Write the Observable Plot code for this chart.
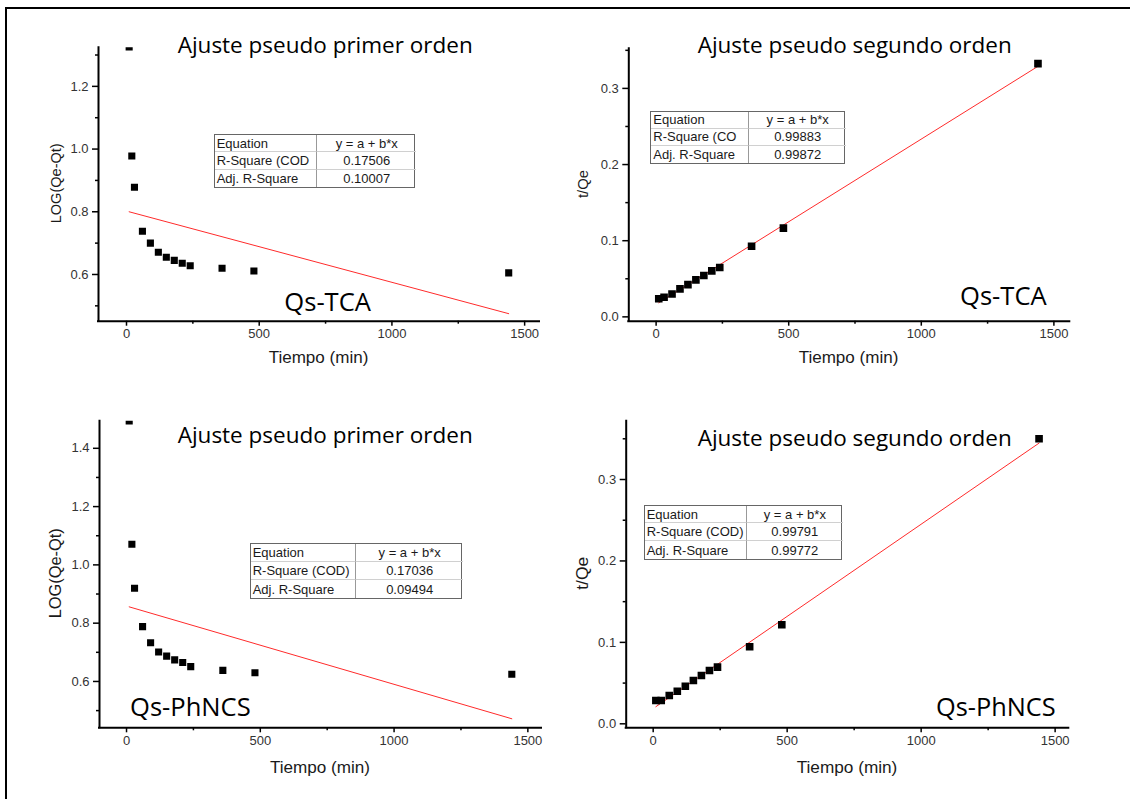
<!DOCTYPE html>
<html><head><meta charset="utf-8">
<script src="https://cdn.jsdelivr.net/npm/d3@7"></script>
<script src="https://cdn.jsdelivr.net/npm/@observablehq/plot@0.6"></script>
<style>
body{margin:0;background:#fff;}
#root{position:relative;width:1130px;height:799px;overflow:hidden;background:#fff;}
.frame{position:absolute;left:5px;top:7px;width:1200px;height:900px;border-left:2px solid #000;border-top:2px solid #000;}
.panel{position:absolute;}
.panel svg{overflow:visible;}
.tbl{position:absolute;box-sizing:border-box;border:1.5px solid #666;background:#fff;display:grid;font-family:"Liberation Sans",Arial,sans-serif;font-size:13px;color:#1a1a1a;}
.tbl div{overflow:hidden;white-space:nowrap;box-sizing:border-box;line-height:1;display:flex;align-items:center;}
.tbl .k{padding-left:2px;border-right:1px solid #999;}
.tbl .v{justify-content:center;}
.tbl .r{border-bottom:1px solid #d0d0d0;}
#ov{position:absolute;left:0;top:0;pointer-events:none;}
</style></head>
<body><div id="root"><div class="frame"></div></div>
<script>
// ---------------- data ----------------
const timesLeft  = [10, 20, 30, 60, 90, 120, 150, 180, 210, 240, 360, 480, 1440];
const timesRight = [10, 30, 60, 90, 120, 150, 180, 210, 240, 360, 480, 1440];

const logTCA   = [1.326, 0.978, 0.878, 0.738, 0.700, 0.671, 0.655, 0.645, 0.636, 0.628, 0.620, 0.611, 0.605];
const logPhNCS = [1.494, 1.071, 0.920, 0.788, 0.733, 0.701, 0.687, 0.674, 0.665, 0.651, 0.638, 0.630, 0.625];
const tqTCA    = [0.0237, 0.0258, 0.0300, 0.0368, 0.0424, 0.0486, 0.0543, 0.0604, 0.0648, 0.0928, 0.1165, 0.3325];
const tqPhNCS  = [0.0286, 0.0286, 0.0348, 0.0400, 0.0462, 0.0532, 0.0593, 0.0655, 0.0696, 0.0946, 0.1216, 0.3500];

const fitT        = [10, 1440];
const fitLogTCA   = [0.800, 0.475];
const fitLogPhNCS = [0.856, 0.472];
const fitTqTCA    = [0.0185, 0.3290];
const fitTqPhNCS  = [0.0210, 0.3447];

const xTicks      = [0, 500, 1000, 1500];
const xMinorTicks = [250, 750, 1250];
const logTicks      = [0.6, 0.8, 1.0, 1.2, 1.4];
const logMinorTicks = [0.5, 0.7, 0.9, 1.1, 1.3];
const tqTicks       = [0.0, 0.1, 0.2, 0.3];
const tqMinorTicks  = [0.05, 0.15, 0.25, 0.35];

const titles   = ["Ajuste pseudo primer orden", "Ajuste pseudo segundo orden", "Ajuste pseudo primer orden", "Ajuste pseudo segundo orden"];
const samples  = ["Qs-TCA", "Qs-TCA", "Qs-PhNCS", "Qs-PhNCS"];
const xLabel   = "Tiempo (min)";
const yLabels  = ["LOG(Qe-Qt)", "t/Qe", "LOG(Qe-Qt)", "t/Qe"];
// row names exactly as visible (cut off by the cell) in each table
const rowNames = [["Equation", "R-Square (COD", "Adj. R-Square"], ["Equation", "R-Square (CO", "Adj. R-Square"],
                  ["Equation", "R-Square (COD)", "Adj. R-Square"], ["Equation", "R-Square (COD)", "Adj. R-Square"]];
const equation = "y = a + b*x";
const r2       = ["0.17506", "0.99883", "0.17036", "0.99791"];
const adjR2    = ["0.10007", "0.99872", "0.09494", "0.99772"];

// ---------------- layout ----------------
const layout = [
  {left:0,   top:0,   w:565, h:400, ml:98,   mr:26,   mt:47.3, mb:79.3, xd:[-105.5,1556], yd:[0.451,1.323], r:4},
  {left:565, top:0,   w:565, h:400, ml:63.3, mr:60.7, mt:48.3, mb:79.3, xd:[-103,1560],   yd:[-0.0057,0.352], r:4.3},
  {left:0,   top:400, w:565, h:399, ml:99,   mr:24,   mt:20.7, mb:71.7, xd:[-101,1551],   yd:[0.441,1.493], r:4},
  {left:565, top:400, w:565, h:399, ml:60.7, mr:61.7, mt:20.7, mb:71.7, xd:[-100.7,1551], yd:[-0.0049,0.3716], r:4.3}
];
const series = [
  {t: timesLeft,  v: logTCA,   fv: fitLogTCA,   major: logTicks, minor: logMinorTicks},
  {t: timesRight, v: tqTCA,    fv: fitTqTCA,    major: tqTicks,  minor: tqMinorTicks},
  {t: timesLeft,  v: logPhNCS, fv: fitLogPhNCS, major: logTicks, minor: logMinorTicks},
  {t: timesRight, v: tqPhNCS,  fv: fitTqPhNCS,  major: tqTicks,  minor: tqMinorTicks}
];
const tableBox = [
  {x:213.7, y:134.3, c1:102.6, c2:99,    rh:17.8},
  {x:650.3, y:110.7, c1:98,    c2:96.7,  rh:17.7},
  {x:249.7, y:543.3, c1:105.6, c2:106.7, rh:18.7},
  {x:643.7, y:504.7, c1:102.3, c2:95.7,  rh:18.4}
];
const titlePos  = [{x:177.7,y:53.3,len:295},{x:697.7,y:53.3,len:314},{x:177.7,y:443.3,len:295},{x:697.7,y:446,len:314}];
const samplePos = [{x:284.3,y:311,len:86.7},{x:960,y:305,len:86.7},{x:130,y:716,len:120.7},{x:936,y:716,len:119.7}];
const xLabPos   = [{x:318.5,y:363,len:99.7},{x:848.5,y:362.7,len:99.7},{x:320,y:773.3,len:100},{x:847,y:773.3,len:100.7}];
const yLabPos   = [{x:60.5,y:183.3,len:80,fs:14.5},{x:588,y:184,len:28,fs:15},{x:60.5,y:573.3,len:90,fs:16},{x:588,y:573.3,len:33,fs:17}];

const root = document.getElementById("root");

layout.forEach((L, i) => {
  const S = series[i];
  const pts = S.t.map((t, k) => ({t, v: S.v[k]}));
  const fit = fitT.map((t, k) => ({t, v: S.fv[k]}));
  const yMajor = S.major.filter(d => d >= L.yd[0] && d <= L.yd[1]);
  const yMinor = S.minor.filter(d => d >= L.yd[0] && d <= L.yd[1]);
  const chart = Plot.plot({
    width: L.w, height: L.h,
    marginLeft: L.ml, marginRight: L.mr, marginTop: L.mt, marginBottom: L.mb,
    x: {domain: L.xd}, y: {domain: L.yd},
    style: {fontFamily: "'Liberation Sans', Arial, sans-serif", fontSize: "13px", color: "#000", background: "transparent"},
    marks: [
      Plot.axisX({ticks: xTicks, tickSize: 5, tickPadding: 3, tickFormat: d3.format("d"), label: null, fill: "#333", strokeWidth: 1.5}),
      Plot.axisX({ticks: xMinorTicks, tickSize: 3, tickFormat: () => "", label: null, strokeWidth: 1.5}),
      Plot.axisY({ticks: yMajor, tickSize: 6, tickPadding: 4, tickFormat: d3.format(".1f"), label: null, fill: "#333", strokeWidth: 1.5}),
      Plot.axisY({ticks: yMinor, tickSize: 3, tickFormat: () => "", label: null, strokeWidth: 1.5}),
      Plot.line(fit, {x: "t", y: "v", stroke: "#ff2b2b", strokeWidth: 1}),
      Plot.dot(pts, {x: "t", y: "v", symbol: "square", r: L.r, fill: "#000", stroke: null, clip: true}),
      Plot.ruleY([L.yd[0]], {stroke: "#000", strokeWidth: 2, strokeLinecap: "square"}),
      Plot.ruleX([L.xd[0]], {stroke: "#000", strokeWidth: 2, strokeLinecap: "square"})
    ]
  });
  const wrap = document.createElement("div");
  wrap.className = "panel";
  wrap.style.left = L.left + "px";
  wrap.style.top = L.top + "px";
  wrap.appendChild(chart);
  root.appendChild(wrap);

  // fit table
  const B = tableBox[i];
  const tb = document.createElement("div");
  tb.className = "tbl";
  tb.style.left = B.x + "px"; tb.style.top = B.y + "px";
  tb.style.width = (B.c1 + B.c2) + "px"; tb.style.height = (3 * B.rh) + "px";
  tb.style.gridTemplateColumns = B.c1 + "px " + B.c2 + "px";
  tb.style.gridTemplateRows = "1fr 1fr 1fr";
  const vals = [equation, r2[i], adjR2[i]];
  rowNames[i].forEach((name, r) => {
    const k = document.createElement("div");
    k.className = "k" + (r < 2 ? " r" : "");
    k.textContent = name;
    const v = document.createElement("div");
    v.className = "v" + (r < 2 ? " r" : "");
    v.textContent = vals[r];
    tb.appendChild(k); tb.appendChild(v);
  });
  root.appendChild(tb);
});

// text overlay
const ov = d3.select(root).append("svg").attr("id", "ov").attr("width", 1130).attr("height", 799);
titles.forEach((t, i) => {
  const p = titlePos[i];
  ov.append("text").attr("x", p.x).attr("y", p.y).attr("font-family", "'Open Sans', sans-serif")
    .attr("font-size", 21).attr("fill", "#000").attr("textLength", p.len).attr("lengthAdjust", "spacingAndGlyphs").text(t);
});
samples.forEach((t, i) => {
  const p = samplePos[i];
  ov.append("text").attr("x", p.x).attr("y", p.y).attr("font-family", "'Open Sans', sans-serif")
    .attr("font-size", 25).attr("fill", "#000").attr("textLength", p.len).attr("lengthAdjust", "spacingAndGlyphs").text(t);
});
xLabPos.forEach((p, i) => {
  ov.append("text").attr("x", p.x - p.len / 2).attr("y", p.y).attr("font-family", "'Liberation Sans', Arial, sans-serif")
    .attr("font-size", 16).attr("fill", "#1a1a1a").attr("textLength", p.len).attr("lengthAdjust", "spacingAndGlyphs").text(xLabel);
});
yLabPos.forEach((p, i) => {
  ov.append("text").attr("transform", `translate(${p.x},${p.y}) rotate(-90)`).attr("x", -p.len / 2).attr("y", 0)
    .attr("font-family", "'Liberation Sans', Arial, sans-serif").attr("font-size", p.fs).attr("fill", "#1a1a1a")
    .attr("textLength", p.len).attr("lengthAdjust", "spacingAndGlyphs").text(yLabels[i]);
});
</script>
</body></html>
